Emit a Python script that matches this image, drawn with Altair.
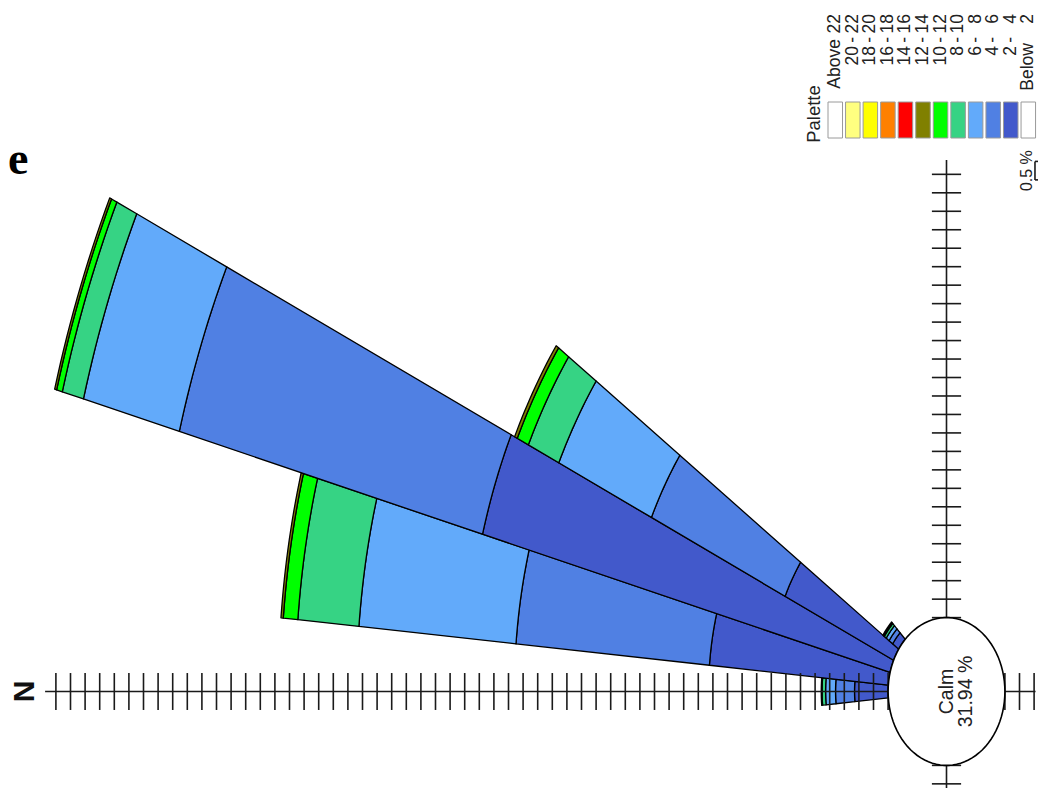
import altair as alt
import numpy as np
import pandas as pd

# ---------------- data ----------------
directions = [0, 10, 20, 30, 40]            # wind direction, degrees clockwise from N
speed_classes = ["2 - 4", "4 - 6", "6 - 8", "8 - 10", "10 - 12", "12 - 14"]
freq_2_4 = [1.15, 6.15, 14.45, 4.10, 0.25]  # % of time per direction
freq_4_6 = [0.65, 6.65, 10.75, 5.05, 0.15]
freq_6_8 = [0.34, 5.40, 3.40, 3.50, 0.12]
freq_8_10 = [0.12, 2.10, 0.75, 1.15, 0.08]
freq_10_12 = [0.03, 0.50, 0.20, 0.42, 0.03]
freq_12_14 = [0.00, 0.08, 0.07, 0.10, 0.03]
calm_pct = 31.94

legend_labels = ["Above 22", "20 - 22", "18 - 20", "16 - 18", "14 - 16", "12 - 14",
                 "10 - 12", "8 - 10", "6 - 8", "4 - 6", "2 - 4", "Below 2"]
legend_colors = ["#FFFFFF", "#FFFF80", "#FFFF00", "#FF8000", "#FF0000", "#808000",
                 "#00FF00", "#36D384", "#62AAFA", "#5080E3", "#4259CB", "#FFFFFF"]
class_colors = [legend_colors[legend_labels.index(c)] for c in speed_classes]

tick_step = 0.5        # % per tick on the axes
scale_label = "0.5 %"

# ---------------- layout / style ----------------
W, H = 1030, 780
CX, CY = 938.5, 683.5           # centre of rose inside the view (px)
PX, PY = 29.2, 36.94            # px per % horizontally / vertically
XMIN, XMAX = -CX / PX, (W - CX) / PX
YMIN, YMAX = -(H - CY) / PY, CY / PY
CALM_R = 2.0                    # calm circle radius in % units
HALF = 5                        # half sector width (deg)
ext = {"N": 30.87, "E": 14.39, "S": 3.05, "W": 2.6}
FONT = "Liberation Sans"

xs = alt.Scale(domain=[XMIN, XMAX], nice=False, zero=False)
ys = alt.Scale(domain=[YMIN, YMAX], nice=False, zero=False)

# ---------------- petals ----------------
rows = []
freqs = [freq_2_4, freq_4_6, freq_6_8, freq_8_10, freq_10_12, freq_12_14]
for di, d in enumerate(directions):
    for ci, c in enumerate(speed_classes):
        f = freqs[ci][di]
        if f > 0:
            rows.append({"dir": d, "ci": ci, "cls": c, "freq": f})
petal_df = pd.DataFrame(rows)

n_arc = 16
k_expr = "[" + ",".join(str(i) for i in range(2 * n_arc)) + "]"

petals = alt.Chart(petal_df).transform_window(
    cum="sum(freq)", groupby=["dir"], sort=[alt.SortField("ci", order="ascending")], frame=[None, 0]
).transform_calculate(
    r1=f"{CALM_R} + datum.cum",
    r0=f"{CALM_R} + datum.cum - datum.freq",
    bid="datum.dir * 100 + datum.ci",
    k=k_expr,
).transform_flatten(["k"]).transform_calculate(
    a=(f"(datum.k < {n_arc} ? datum.dir - {HALF} + {2*HALF} * datum.k / {n_arc-1}"
       f" : datum.dir + {HALF} - {2*HALF} * (datum.k - {n_arc}) / {n_arc-1}) * PI / 180"),
    rr=f"datum.k < {n_arc} ? datum.r1 : datum.r0",
).transform_calculate(
    px="-datum.rr * cos(datum.a)",
    py="datum.rr * sin(datum.a)",
).mark_line(
    interpolate="linear-closed", filled=True, stroke="black", strokeWidth=1.3, strokeJoin="round"
).encode(
    x=alt.X("px:Q", scale=xs, axis=None),
    y=alt.Y("py:Q", scale=ys, axis=None),
    color=alt.Color("cls:N", scale=alt.Scale(domain=speed_classes, range=class_colors), legend=None),
    detail="bid:N",
    order="k:Q",
)

# ---------------- axes with ticks ----------------
seg = [
    {"x1": -ext["N"], "x2": ext["S"], "y1": 0, "y2": 0},
    {"x1": 0, "x2": 0, "y1": -ext["W"] - 1, "y2": ext["E"]},
]
for r in np.arange(tick_step, ext["N"], tick_step):
    seg.append({"x1": -r, "x2": -r, "y1": -tick_step, "y2": tick_step})
for r in np.arange(tick_step, ext["S"], tick_step):
    seg.append({"x1": r, "x2": r, "y1": -tick_step, "y2": tick_step})
for r in np.arange(tick_step, ext["E"], tick_step):
    seg.append({"x1": -tick_step, "x2": tick_step, "y1": r, "y2": r})
for r in np.arange(tick_step, ext["W"] + 1, tick_step):
    seg.append({"x1": -tick_step, "x2": tick_step, "y1": -r, "y2": -r})
# scale bar for one tick step
SBX, SBY = 3.03, 13.85
seg += [
    {"x1": SBX, "x2": SBX, "y1": SBY, "y2": SBY + tick_step},
    {"x1": SBX, "x2": SBX + 0.4, "y1": SBY, "y2": SBY},
    {"x1": SBX, "x2": SBX + 0.4, "y1": SBY + tick_step, "y2": SBY + tick_step},
]
rules = alt.Chart(pd.DataFrame(seg)).mark_rule(color="#1a1a1a", strokeWidth=1.6).encode(
    x=alt.X("x1:Q", scale=xs, axis=None), x2="x2:Q",
    y=alt.Y("y1:Q", scale=ys, axis=None), y2="y2:Q",
)

# ---------------- calm circle ----------------
n_ell = 90
ellipse = alt.Chart(pd.DataFrame({"k": np.arange(n_ell)})).transform_calculate(
    px=f"{CALM_R} * cos(2 * PI * datum.k / {n_ell})",
    py=f"{CALM_R} * sin(2 * PI * datum.k / {n_ell})",
).mark_line(interpolate="linear-closed", filled=True, fill="white", stroke="black", strokeWidth=1.6).encode(
    x=alt.X("px:Q", scale=xs, axis=None),
    y=alt.Y("py:Q", scale=ys, axis=None),
    order="k:Q",
)

calm_text = alt.Chart(pd.DataFrame({"x": [0.03], "y": [0.0]})).mark_text(
    angle=270, align="center", baseline="middle", font=FONT, fontSize=19.5, lineHeight=19, color="#222222"
).encode(
    x=alt.X("x:Q", scale=xs, axis=None), y=alt.Y("y:Q", scale=ys, axis=None),
    text=alt.value(["Calm", f"{calm_pct:.2f} %"]),
)

n_label = alt.Chart(pd.DataFrame({"x": [-ext["N"] - 0.68], "y": [0.0], "t": ["N"]})).mark_text(
    angle=270, align="center", baseline="middle", font=FONT, fontSize=30, fontWeight="bold", color="#111111"
).encode(x=alt.X("x:Q", scale=xs, axis=None), y=alt.Y("y:Q", scale=ys, axis=None), text="t:N")

scale_text = alt.Chart(pd.DataFrame({"x": [2.74], "y": [SBY + tick_step / 2], "t": [scale_label]})).mark_text(
    angle=270, align="center", baseline="middle", font=FONT, fontSize=16, color="#222222"
).encode(x=alt.X("x:Q", scale=xs, axis=None), y=alt.Y("y:Q", scale=ys, axis=None), text="t:N")

rose = alt.layer(petals, rules, ellipse, calm_text, n_label, scale_text)

# ---------------- rotated palette legend (pixel positions) ----------------
LEG_X0, LEG_STEP, LEG_W = 820, 17.55, 14.5
LEG_Y0, LEG_Y1 = 94, 130
leg = pd.DataFrame({"i": range(len(legend_labels)), "label": legend_labels, "color": legend_colors})
swatches = alt.Chart(leg).transform_calculate(
    sx=f"{LEG_X0} + datum.i * {LEG_STEP}",
    sx2=f"{LEG_X0} + datum.i * {LEG_STEP} + {LEG_W}",
).mark_rect(stroke="#9a9a9a", strokeWidth=1).encode(
    x=alt.X("sx:Q", scale=None), x2="sx2:Q",
    y=alt.value(LEG_Y0), y2=alt.value(LEG_Y1),
    fill=alt.Fill("color:N", scale=None),
)

pieces = []
for i, lab in enumerate(legend_labels):
    if " - " in lab:
        a, b = lab.split(" - ")
        pieces += [{"i": i, "t": b, "ye": 6}, {"i": i, "t": "-", "ye": 29}, {"i": i, "t": a, "ye": 38}]
    else:
        w, n = lab.split(" ")
        pieces += [{"i": i, "t": n, "ye": 6}, {"i": i, "t": w, "ye": 31 if w == "Above" else 35}]
leg_text = alt.Chart(pd.DataFrame(pieces)).transform_calculate(
    tx=f"{LEG_X0} + datum.i * {LEG_STEP} + {LEG_W / 2}"
).mark_text(angle=270, align="right", baseline="middle", font=FONT, fontSize=17.5, color="#222222").encode(
    x=alt.X("tx:Q", scale=None), y=alt.Y("ye:Q", scale=None), text="t:N"
)

one = pd.DataFrame({"a": [0]})
palette_title = alt.Chart(one).mark_text(
    angle=270, align="center", baseline="middle", font=FONT, fontSize=18.5, color="#222222"
).encode(x=alt.value(805.5), y=alt.value(106), text=alt.value("Palette"))

e_text = alt.Chart(one).mark_text(
    align="left", baseline="alphabetic", font="Liberation Serif", fontWeight="bold", fontSize=46, color="#000000"
).encode(x=alt.value(0), y=alt.value(166), text=alt.value("e"))

overlay = alt.layer(swatches, leg_text, palette_title, e_text)

chart = alt.layer(rose, overlay).resolve_scale(x="independent", y="independent").properties(
    width=W, height=H, padding=0, autosize="none", background="white"
).configure_view(stroke=None)

chart.save("out.html", embed_options={"renderer": "svg", "actions": False})
